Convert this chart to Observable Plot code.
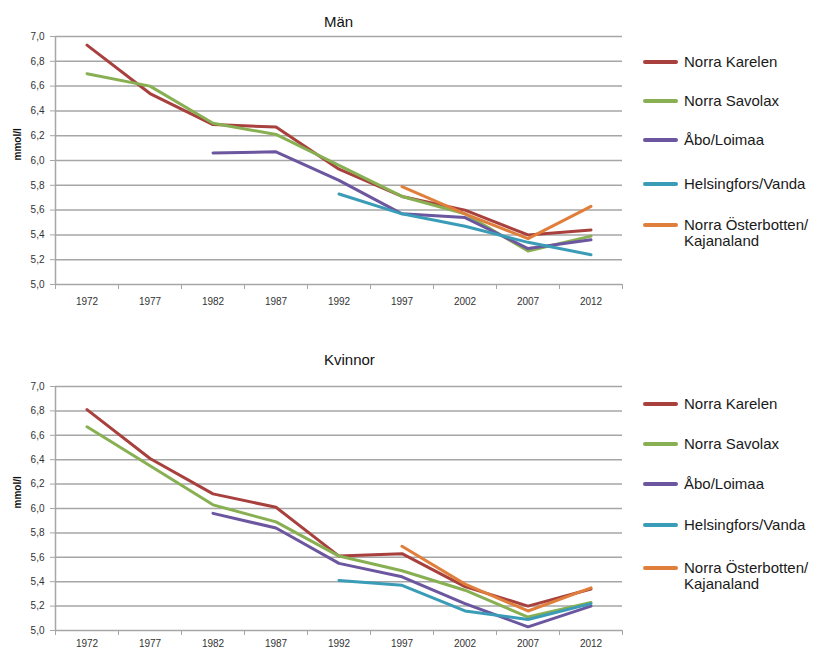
<!DOCTYPE html>
<html><head><meta charset="utf-8">
<script src="https://cdn.jsdelivr.net/npm/d3@7"></script>
<script src="https://cdn.jsdelivr.net/npm/@observablehq/plot@0.6"></script>
<style>
body{margin:0;background:#fff;font-family:"Liberation Sans",Arial,sans-serif;}
#wrap{position:relative;width:829px;height:650px;overflow:hidden;background:#fff}
.panel{position:absolute;left:0;width:829px;height:325px}
.title{position:absolute;font-size:15px;color:#111;line-height:16px;white-space:nowrap}
.item{position:absolute;left:643px;line-height:16px;font-size:15px;color:#1a1a1a;white-space:nowrap}
.sw{position:absolute;left:0;width:35px;height:4px;border-radius:2px}
.lab{position:absolute;left:41px;top:0}
</style></head>
<body><div id="wrap"></div>
<script>
const years = [1972, 1977, 1982, 1987, 1992, 1997, 2002, 2007, 2012];
const seriesNames = ["Norra Karelen", "Norra Savolax", "Åbo/Loimaa", "Helsingfors/Vanda", "Norra Österbotten/\nKajanaland"];
const colors = ["#A8403E", "#88B053", "#6B569F", "#3A9CB6", "#E07F3B"];
const yTicks = [5.0, 5.2, 5.4, 5.6, 5.8, 6.0, 6.2, 6.4, 6.6, 6.8, 7.0];

// Män
const menKarelen   = [6.93, 6.54, 6.29, 6.27, 5.93, 5.71, 5.60, 5.40, 5.44];
const menSavolax   = [6.70, 6.60, 6.30, 6.21, 5.96, 5.71, 5.57, 5.27, 5.39];
const menAbo       = [null, null, 6.06, 6.07, 5.84, 5.57, 5.54, 5.29, 5.36];
const menHelsinki  = [null, null, null, null, 5.73, 5.57, 5.47, 5.34, 5.24];
const menOster     = [null, null, null, null, null, 5.79, 5.57, 5.37, 5.63];

// Kvinnor
const womenKarelen  = [6.81, 6.41, 6.12, 6.01, 5.61, 5.63, 5.36, 5.20, 5.34];
const womenSavolax  = [6.67, 6.35, 6.03, 5.89, 5.61, 5.49, 5.33, 5.11, 5.23];
const womenAbo      = [null, null, 5.96, 5.84, 5.55, 5.44, 5.22, 5.03, 5.20];
const womenHelsinki = [null, null, null, null, 5.41, 5.37, 5.16, 5.09, 5.22];
const womenOster    = [null, null, null, null, null, 5.69, 5.38, 5.16, 5.35];

const titles = ["Män", "Kvinnor"];

function rowsOf(arrs){
  const out = [];
  arrs.forEach((arr, s) => years.forEach((yr, i) => {
    out.push({year: yr, value: arr[i] == null ? NaN : arr[i], series: seriesNames[s]});
  }));
  return out;
}

const boundaries = years.map(y => y - 2.5).concat([years[years.length-1] + 2.5]);
const fmt = d => d.toFixed(1).replace(".", ",");

function chart(rows, marginTop, marginBottom, pad){
  return Plot.plot({
    width: 829, height: 325,
    marginLeft: 55, marginRight: 207, marginTop, marginBottom,
    x: {type: "linear", domain: [1969.5, 2014.5]},
    y: {domain: [5, 7]},
    color: {domain: seriesNames, range: colors},
    style: {fontFamily: "'Liberation Sans', Arial, sans-serif", fontSize: "10px", color: "#333", background: "white"},
    marks: [
      Plot.gridY(yTicks, {stroke: "#a6a6a6", strokeOpacity: 1, strokeWidth: 1.5}),
      Plot.ruleX([1969.5], {stroke: "#a6a6a6", strokeWidth: 1.5}),
      Plot.axisY(yTicks, {tickFormat: fmt, tickSize: 5, tickPadding: 6, stroke: "#a6a6a6", fill: "#333", label: null}),
      Plot.axisX(boundaries, {tickFormat: () => "", tickSize: 5, stroke: "#a6a6a6", label: null}),
      Plot.axisX(years, {tickFormat: d => String(d), tickSize: 0, tickPadding: pad, fill: "#333", label: null}),
      Plot.line(rows, {x: "year", y: "value", z: "series", stroke: "series", strokeWidth: 3}),
      Plot.text(["mmol/l"], {frameAnchor: "left", rotate: -90, dx: -38, fontWeight: "bold", fill: "#111", fontSize: 10})
    ]
  });
}

const wrap = document.getElementById("wrap");
const panels = [
  {rows: rowsOf([menKarelen, menSavolax, menAbo, menHelsinki, menOster]), top: 0, mt: 36, mb: 41, pad: 13, titleY: 22, legend: [61.7, 100.7, 140, 184, 225]},
  {rows: rowsOf([womenKarelen, womenSavolax, womenAbo, womenHelsinki, womenOster]), top: 325, mt: 61, mb: 20, pad: 9, titleY: 360, legend: [404, 444, 484, 525, 568]}
];
panels.forEach((p, k) => {
  const div = document.createElement("div");
  div.className = "panel";
  div.style.top = p.top + "px";
  div.appendChild(chart(p.rows, p.mt, p.mb, p.pad));
  wrap.appendChild(div);
  const t = document.createElement("div");
  t.className = "title";
  t.style.left = "324px";
  t.style.top = (p.titleY - 8) + "px";
  t.textContent = titles[k];
  wrap.appendChild(t);
  seriesNames.forEach((name, i) => {
    const it = document.createElement("div");
    it.className = "item";
    it.style.top = (p.legend[i] - 8) + "px";
    const sw = document.createElement("div");
    sw.className = "sw";
    sw.style.top = "6px";
    sw.style.background = colors[i];
    const lab = document.createElement("div");
    lab.className = "lab";
    lab.innerHTML = name.split("\n").join("<br>");
    it.appendChild(sw); it.appendChild(lab);
    wrap.appendChild(it);
  });
});
</script></body></html>
